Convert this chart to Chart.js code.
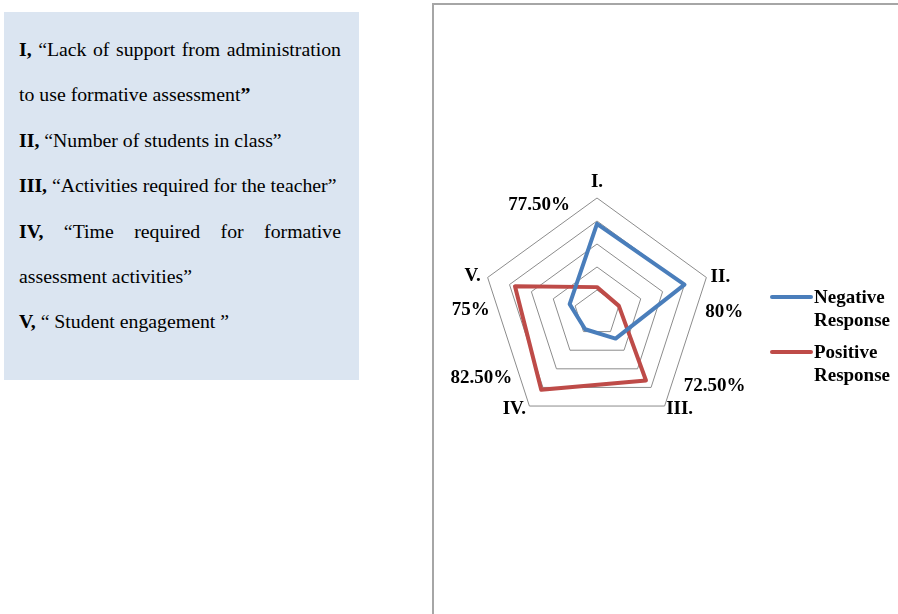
<!DOCTYPE html>
<html>
<head>
<meta charset="utf-8">
<script src="https://cdn.jsdelivr.net/npm/chart.js@4/dist/chart.umd.min.js"></script>
<style>
  html, body { margin: 0; padding: 0; background: #fff; width: 898px; height: 614px; overflow: hidden; }
  #note {
    position: absolute; left: 4px; top: 12px; width: 355px; height: 368px;
    background: #dbe5f1; box-sizing: border-box; padding: 15px 18px 0 15px;
    font-family: "Liberation Serif", "Times New Roman", serif; font-size: 19.8px; line-height: 45.4px; color: #000;
  }
  #note p { margin: 0; text-align: justify; }
  #frame {
    position: absolute; left: 432px; top: 3px; width: 480px; height: 620px;
    border-left: 2px solid #a6a6a6; border-top: 2px solid #a6a6a6; box-sizing: border-box;
  }
  #chart { position: absolute; left: 0; top: 0; }
  #legend {
    position: absolute; left: 770px; top: 285px;
    font-family: "Liberation Serif", "Times New Roman", serif; font-weight: bold; font-size: 19px; line-height: 23px; color: #000;
  }
  .li { position: relative; padding-left: 44px; width: 84px; margin-bottom: 9px; }
  .sw { position: absolute; left: 0; top: 10px; width: 43px; height: 4px; border-radius: 2px; }
</style>
</head>
<body>
<div id="note">
  <p><b>I,</b> “Lack of support from administration to use formative assessment<b>”</b></p>
  <p><b>II,</b> “Number of students in class”</p>
  <p><b>III,</b> “Activities required for the teacher”</p>
  <p><b>IV,</b> “Time required for formative assessment activities”</p>
  <p><b>V,</b> “ Student engagement ”</p>
</div>
<div id="frame"></div>
<canvas id="chart" width="898" height="614"></canvas>
<div id="legend"></div>
<script>
// ---- data ----
const categories = ['I.', 'II.', 'III.', 'IV.', 'V.'];
const percentLabels = ['77.50%', '80%', '72.50%', '82.50%', '75%'];
const seriesNames = ['Negative Response', 'Positive Response'];
const negativeValues = [77.5, 80, 27.5, 17.5, 25];
const positiveValues = [22.5, 20, 72.5, 82.5, 75];
const scaleTicks = { min: 0, max: 100, step: 20 };

// ---- layout / style ----
const seriesColors = ['#4a7ebb', '#be4b48'];
const catOffsets = [[0, -16], [14, 0], [15, 3], [-15, 3], [-15, -1]];
const pctOffsets = [[-58, 7], [18, 35], [50, -20], [-48, -28], [-17, 33]];

const labelPlugin = {
  id: 'radarLabels',
  afterDraw(chart) {
    const s = chart.scales.r;
    const ctx = chart.ctx;
    ctx.save();
    ctx.fillStyle = '#000';
    ctx.font = 'bold 19px "Liberation Serif", "Times New Roman", serif';
    ctx.textAlign = 'center';
    ctx.textBaseline = 'middle';
    categories.forEach((c, i) => {
      const p = s.getPointPositionForValue(i, s.max);
      ctx.fillText(c, p.x + catOffsets[i][0], p.y + catOffsets[i][1]);
      ctx.fillText(percentLabels[i], p.x + pctOffsets[i][0], p.y + pctOffsets[i][1]);
    });
    ctx.restore();
  }
};

const chart = new Chart(document.getElementById('chart'), {
  type: 'radar',
  data: {
    labels: categories,
    datasets: [
      { label: seriesNames[0], data: negativeValues },
      { label: seriesNames[1], data: positiveValues }
    ].map((d, i) => Object.assign(d, {
      borderColor: seriesColors[i], backgroundColor: seriesColors[i],
      borderWidth: 4, fill: false, pointRadius: 0, pointHoverRadius: 0,
      borderJoinStyle: 'round', tension: 0
    }))
  },
  options: {
    responsive: false,
    animation: false,
    layout: { padding: { left: 482, top: 198, right: 186, bottom: 186 } },
    plugins: { legend: { display: false }, tooltip: { enabled: false } },
    scales: {
      r: {
        min: scaleTicks.min, max: scaleTicks.max,
        ticks: { display: false, stepSize: scaleTicks.step },
        grid: { color: '#8c8c8c', lineWidth: 1 },
        angleLines: { display: false },
        pointLabels: { display: false }
      }
    }
  },
  plugins: [labelPlugin]
});

// HTML legend built from the chart's datasets
const lg = document.getElementById('legend');
chart.data.datasets.forEach(ds => {
  const item = document.createElement('div');
  item.className = 'li';
  const sw = document.createElement('span');
  sw.className = 'sw';
  sw.style.background = ds.borderColor;
  item.appendChild(sw);
  item.appendChild(document.createTextNode(ds.label));
  lg.appendChild(item);
});
</script>
</body>
</html>
